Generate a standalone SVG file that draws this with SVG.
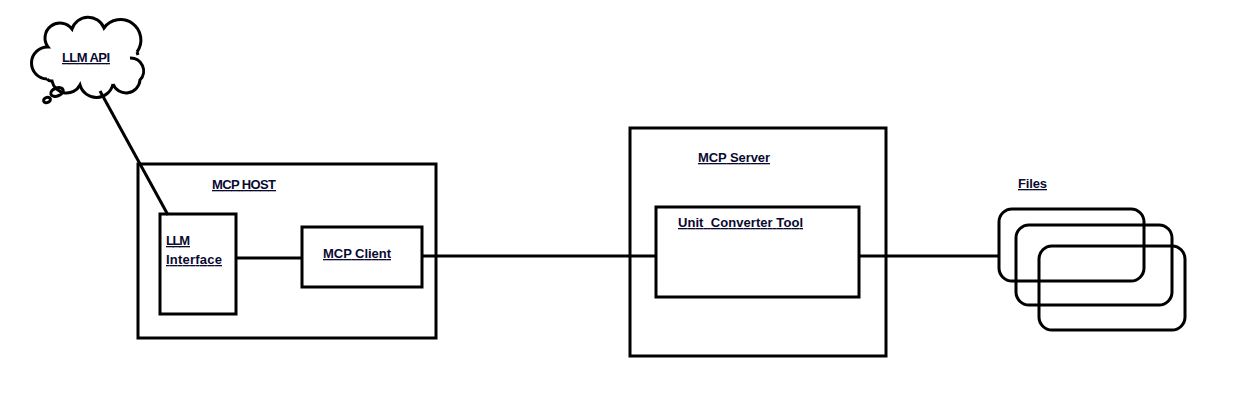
<svg xmlns="http://www.w3.org/2000/svg" width="1249" height="416" viewBox="0 0 1249 416">
<style>
.box{fill:none;stroke:#000;stroke-width:3}
.ln{fill:none;stroke:#000;stroke-width:3}
.t{font-family:"Liberation Sans",Arial,sans-serif;font-weight:bold;font-size:13px;fill:#0a0a30;text-decoration:underline;white-space:pre}
</style>
<rect width="1249" height="416" fill="#fff"/>
<g id="connectors">
<line class="ln" x1="100" y1="91" x2="168" y2="215"/>
<line class="ln" x1="236" y1="258" x2="302" y2="258"/>
<line class="ln" x1="423" y1="256" x2="657" y2="256"/>
<line class="ln" x1="860" y1="256" x2="999" y2="256"/>
</g>
<g id="llm-api">
<path class="box" d="M47 79 A16 16 0 0 1 48 47 A14 14 0 0 1 72 29 A17 17 0 0 1 104 28 A20 20 0 0 1 137 52 M130 58 A13 13 0 0 1 140 80 A14 14 0 0 1 113 84 M113 84 A17 17 0 0 1 80 85 A15 15 0 0 1 52 81 A6 6 0 0 1 47 79 M137 52 L138 55"/>
<ellipse class="box" cx="57" cy="92" rx="6.5" ry="4" transform="rotate(-20 57 92)"/>
<ellipse class="box" cx="47" cy="100" rx="3.5" ry="2.5" transform="rotate(-20 47 100)"/>
<text class="t" x="62" y="62" textLength="48">LLM API</text>
</g>
<g id="mcp-host">
<rect class="box" x="138" y="164" width="298" height="174"/>
<text class="t" x="212" y="189" textLength="64">MCP HOST</text>
</g>
<g id="llm-interface">
<rect class="box" x="160" y="214" width="76" height="100"/>
<text class="t" x="166" y="245" textLength="24">LLM</text>
<text class="t" x="166" y="264" textLength="56">Interface</text>
</g>
<g id="mcp-client">
<rect class="box" x="302" y="227" width="120" height="60"/>
<text class="t" x="323" y="258" textLength="68">MCP Client</text>
</g>
<g id="mcp-server">
<rect class="box" x="630" y="128" width="256" height="228"/>
<text class="t" x="698" y="162" textLength="72">MCP Server</text>
</g>
<g id="unit-converter-tool">
<rect class="box" x="656" y="207" width="203" height="90"/>
<text class="t" x="678" y="227" textLength="125">Unit  Converter Tool</text>
</g>
<g id="files">
<text class="t" x="1018" y="188" textLength="29">Files</text>
<rect class="box" x="999" y="209" width="145" height="72" rx="13"/>
<rect class="box" x="1016" y="225" width="156" height="80" rx="13"/>
<rect class="box" x="1039" y="246" width="146" height="84" rx="13"/>
</g>
</svg>
